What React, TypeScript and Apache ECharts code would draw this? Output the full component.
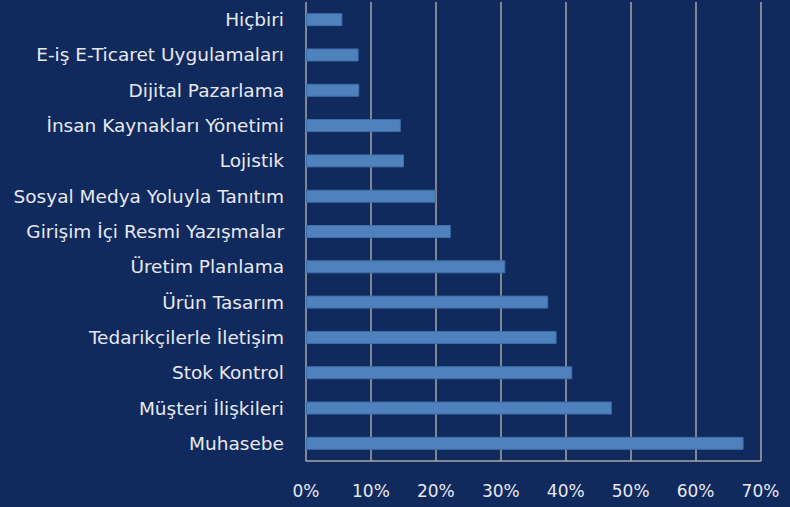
import React, { useEffect, useRef } from "react";
import * as echarts from "echarts";

const categories = [
  "Hiçbiri",
  "E-iş E-Ticaret Uygulamaları",
  "Dijital Pazarlama",
  "İnsan Kaynakları Yönetimi",
  "Lojistik",
  "Sosyal Medya Yoluyla Tanıtım",
  "Girişim İçi Resmi Yazışmalar",
  "Üretim Planlama",
  "Ürün Tasarım",
  "Tedarikçilerle İletişim",
  "Stok Kontrol",
  "Müşteri İlişkileri",
  "Muhasebe",
];

const values = [5.6, 8.1, 8.2, 14.6, 15.1, 20.0, 22.3, 30.7, 37.3, 38.6, 41.0, 47.1, 67.4];

export default function App() {
  const ref = useRef<HTMLDivElement>(null);
  useEffect(() => {
    if (!ref.current) return;
    const chart = echarts.init(ref.current, undefined, { renderer: "svg" });
    chart.setOption({
      animation: false,
      backgroundColor: "#102a5e",
      textStyle: { fontFamily: "DejaVu Sans" },
      grid: { left: 306, right: 29.5, top: 2, bottom: 46 },
      xAxis: {
        type: "value",
        min: 0,
        max: 70,
        interval: 10,
        axisLine: { show: true, lineStyle: { color: "#a6a6a6", width: 1.5 } },
        axisTick: { show: false },
        splitLine: { show: true, lineStyle: { color: "#a6a6a6", width: 1.5 } },
        axisLabel: {
          color: "#e8e8ee",
          fontSize: 17,
          margin: 21,
          formatter: (v: number) => v + "%",
        },
      },
      yAxis: {
        type: "category",
        inverse: true,
        data: categories,
        axisLine: { show: false },
        axisTick: { show: false },
        axisLabel: { color: "#e8e8ee", fontSize: 18.5, margin: 22 },
      },
      series: [
        {
          type: "bar",
          data: values,
          barWidth: 13,
          itemStyle: { color: "#4f81bd", borderColor: "#3f6ea8", borderWidth: 1 },
        },
      ],
    });
    return () => chart.dispose();
  }, []);
  return (
    <div
      ref={ref}
      style={{ position: "absolute", left: 0, top: 0, width: 790, height: 507 }}
    />
  );
}
